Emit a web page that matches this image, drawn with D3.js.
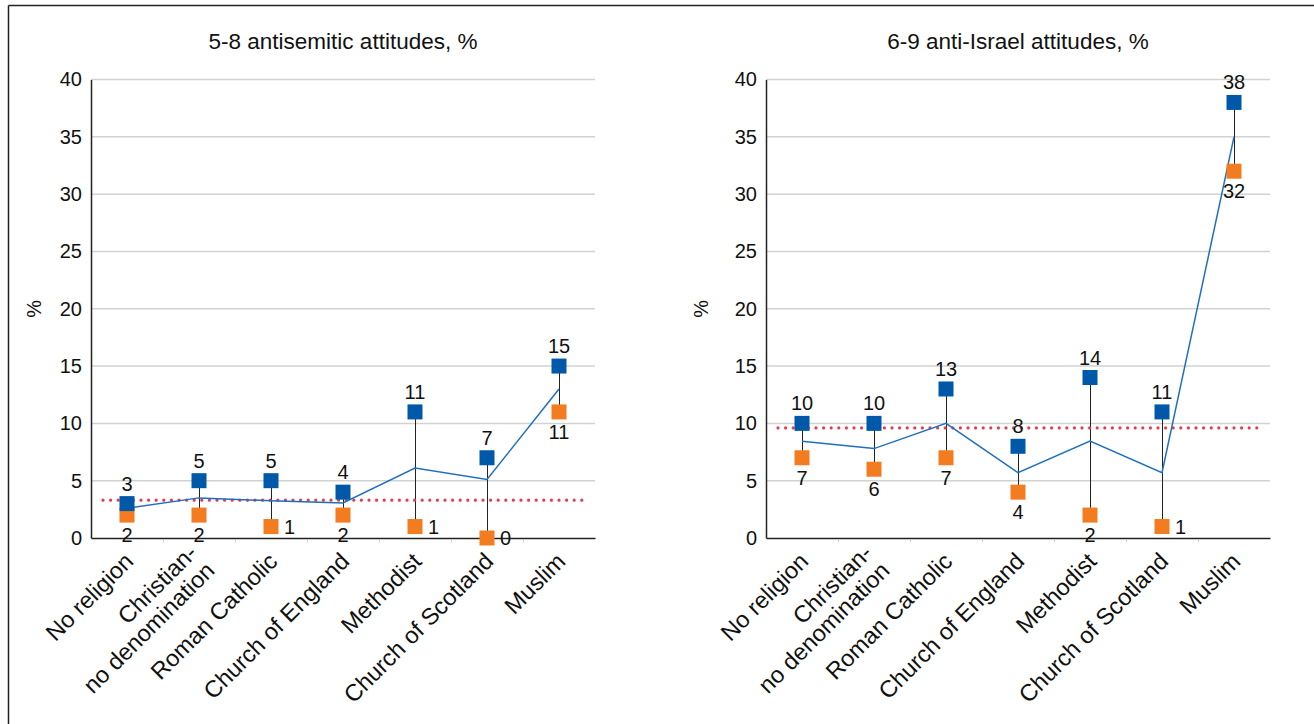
<!DOCTYPE html>
<html>
<head>
<meta charset="utf-8">
<script src="https://cdn.jsdelivr.net/npm/d3@7"></script>
<style>
  html, body { margin: 0; padding: 0; background: #fff; }
  svg { display: block; font-family: "Liberation Sans", Arial, Helvetica, sans-serif; }
</style>
</head>
<body>
<svg id="chart" width="1314" height="724"></svg>
<script>
// ---------- DATA ----------
const categories = ["No religion", "Christian-|no denomination", "Roman Catholic", "Church of England", "Methodist", "Church of Scotland", "Muslim"];
const yTicks = [0, 5, 10, 15, 20, 25, 30, 35, 40];

const antisemiticTitle = "5-8 antisemitic attitudes, %";
const antisemiticHigh = [3, 5, 5, 4, 11, 7, 15];
const antisemiticLow = [2, 2, 1, 2, 1, 0, 11];
const antisemiticMean = [2.6, 3.5, 3.25, 3.05, 6.1, 5.1, 13.0];
const antisemiticOverall = 3.3;

const israelTitle = "6-9 anti-Israel attitudes, %";
const israelHigh = [10, 10, 13, 8, 14, 11, 38];
const israelLow = [7, 6, 7, 4, 2, 1, 32];
const israelMean = [8.45, 7.8, 10.0, 5.7, 8.45, 5.7, 35.0];
const israelOverall = 9.6;

// ---------- DRAW ----------
const svg = d3.select("#chart");

// outer frame (top and left edges visible)
svg.append("line").attr("x1", 8.5).attr("x2", 1314).attr("y1", 5.5).attr("y2", 5.5).attr("stroke", "#222").attr("stroke-width", 1.5);
svg.append("line").attr("x1", 8.5).attr("x2", 8.5).attr("y1", 5.5).attr("y2", 724).attr("stroke", "#222").attr("stroke-width", 1.5);

const BLUE = "#0058a9", ORANGE = "#f47c20", LINE = "#1f6fc1", RED = "#e8394f";

function panel(opts) {
  const { x0, x1, yTop, yBot, title, high, low, mean, overall, yLabelOffset } = opts;
  const g = svg.append("g");
  const x = d3.scaleBand().domain(categories).range([x0, x1]).padding(0);
  const y = d3.scaleLinear().domain([0, 40]).range([yBot, yTop]);
  const cx = c => x(c) + x.bandwidth() / 2;

  // gridlines
  g.append("g").selectAll("line").data(yTicks.filter(t => t > 0)).join("line")
    .attr("x1", x0).attr("x2", x1).attr("y1", d => y(d)).attr("y2", d => y(d))
    .attr("stroke", "#d2d2d2").attr("stroke-width", 1.5);

  // y axis
  const yAxis = d3.axisLeft(y).tickValues(yTicks).tickSize(0).tickPadding(9);
  const ya = g.append("g").attr("transform", `translate(${x0},0)`).call(yAxis);
  ya.select(".domain").attr("stroke", "#222").attr("stroke-width", 1.5);
  ya.selectAll("text").attr("font-size", 20).attr("fill", "#111").attr("font-family", "Liberation Sans, Arial, sans-serif");

  // x axis
  const xAxis = d3.axisBottom(x).tickSize(0).tickFormat("");
  const xa = g.append("g").attr("transform", `translate(0,${yBot})`).call(xAxis);
  xa.select(".domain").attr("stroke", "#222").attr("stroke-width", 1.5);
  // small separators at band boundaries
  g.append("g").selectAll("line").data(categories.slice(1)).join("line")
    .attr("x1", d => x(d) + 0.5).attr("x2", d => x(d) + 0.5).attr("y1", yBot + 1).attr("y2", yBot + 4)
    .attr("stroke", "#c8c8c8").attr("stroke-width", 1);

  // category labels rotated
  categories.forEach(c => {
    const lines = c.split("|");
    const t = g.append("text")
      .attr("transform", `translate(${cx(c) + 2},${yBot + 19}) rotate(-45)`)
      .attr("text-anchor", "end").attr("font-size", 23.5).attr("fill", "#111");
    lines.forEach((l, i) => {
      t.append("tspan").attr("x", 0)
        .attr("dy", i === 0 ? (lines.length > 1 ? "-0.15em" : "0.35em") : "1.05em")
        .text(l);
    });
  });

  // title
  g.append("text").attr("x", (x0 + x1) / 2).attr("y", 49).attr("text-anchor", "middle")
    .attr("font-size", 22.5).attr("fill", "#111").text(title);

  // y label
  g.append("text").attr("transform", `translate(${x0 - yLabelOffset},${(yTop + yBot) / 2}) rotate(-90)`)
    .attr("text-anchor", "middle").attr("font-size", 20).attr("fill", "#111").text("%");

  const rows = categories.map((c, i) => ({ c, hi: high[i], lo: low[i], m: mean[i] }));

  // connectors
  g.append("g").selectAll("line").data(rows).join("line")
    .attr("x1", d => cx(d.c) + 0.5).attr("x2", d => cx(d.c) + 0.5)
    .attr("y1", d => y(d.hi)).attr("y2", d => y(d.lo))
    .attr("stroke", "#222").attr("stroke-width", 1);

  // overall dotted line
  g.append("line")
    .attr("x1", cx(categories[0]) - 24).attr("x2", cx(categories[categories.length - 1]) + 24)
    .attr("y1", y(overall)).attr("y2", y(overall))
    .attr("stroke", RED).attr("stroke-width", 3.2).attr("stroke-linecap", "round")
    .attr("stroke-dasharray", "0 7.6");

  // mean line
  g.append("path").datum(rows)
    .attr("d", d3.line().x(d => cx(d.c)).y(d => y(d.m)))
    .attr("fill", "none").attr("stroke", LINE).attr("stroke-width", 1.5);

  const S = 15;
  // orange markers
  g.append("g").selectAll("rect").data(rows).join("rect")
    .attr("x", d => cx(d.c) - S / 2).attr("y", d => y(d.lo) - S / 2)
    .attr("width", S).attr("height", S).attr("fill", ORANGE);
  // blue markers
  g.append("g").selectAll("rect").data(rows).join("rect")
    .attr("x", d => cx(d.c) - S / 2).attr("y", d => y(d.hi) - S / 2)
    .attr("width", S).attr("height", S).attr("fill", BLUE);

  // high labels
  g.append("g").selectAll("text").data(rows).join("text")
    .attr("x", d => cx(d.c)).attr("y", d => y(d.hi) - 20)
    .attr("dy", "0.35em").attr("text-anchor", "middle")
    .attr("font-size", 20).attr("fill", "#111").text(d => d.hi);
  // low labels
  g.append("g").selectAll("text").data(rows).join("text")
    .attr("x", d => d.lo <= 1 ? cx(d.c) + 13 : cx(d.c))
    .attr("y", d => d.lo <= 1 ? y(d.lo) : y(d.lo) + 20)
    .attr("dy", "0.35em").attr("text-anchor", d => d.lo <= 1 ? "start" : "middle")
    .attr("font-size", 20).attr("fill", "#111").text(d => d.lo);
}

panel({ x0: 91, x1: 595, yTop: 79.5, yBot: 538, title: antisemiticTitle, yLabelOffset: 50,
        high: antisemiticHigh, low: antisemiticLow, mean: antisemiticMean, overall: antisemiticOverall });
panel({ x0: 766, x1: 1270, yTop: 79.5, yBot: 538, title: israelTitle, yLabelOffset: 58,
        high: israelHigh, low: israelLow, mean: israelMean, overall: israelOverall });
</script>
</body>
</html>
